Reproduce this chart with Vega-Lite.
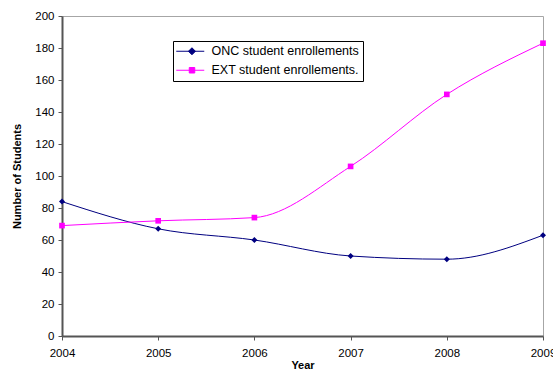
{
  "$schema": "https://vega.github.io/schema/vega-lite/v6.json",
  "width": 481,
  "height": 320,
  "autosize": {"type": "none"},
  "padding": {"left": 62, "top": 16, "right": 10, "bottom": 35},
  "background": "white",
  "config": {
    "view": {"stroke": "#a6a6a6", "strokeWidth": 1},
    "font": "Liberation Sans",
    "axis": {"grid": false, "domainColor": "#555555", "tickColor": "#555555", "domainWidth": 2, "labelColor": "#000000", "labelFont": "Liberation Sans", "labelFontSize": 11.5, "titleFont": "Liberation Sans", "titleFontSize": 11, "titleFontWeight": "bold", "titleColor": "#000000", "tickSize": 4}
  },
  "data": {
    "values": [
      {"Year": 2004, "Series": "ONC student enrollements", "Students": 84},
      {"Year": 2005, "Series": "ONC student enrollements", "Students": 67},
      {"Year": 2006, "Series": "ONC student enrollements", "Students": 60},
      {"Year": 2007, "Series": "ONC student enrollements", "Students": 50},
      {"Year": 2008, "Series": "ONC student enrollements", "Students": 48},
      {"Year": 2009, "Series": "ONC student enrollements", "Students": 63},
      {"Year": 2004, "Series": "EXT student enrollements.", "Students": 69},
      {"Year": 2005, "Series": "EXT student enrollements.", "Students": 72},
      {"Year": 2006, "Series": "EXT student enrollements.", "Students": 74},
      {"Year": 2007, "Series": "EXT student enrollements.", "Students": 106},
      {"Year": 2008, "Series": "EXT student enrollements.", "Students": 151},
      {"Year": 2009, "Series": "EXT student enrollements.", "Students": 183}
    ]
  },
  "encoding": {
    "x": {"field": "Year", "type": "quantitative", "scale": {"domain": [2004, 2009], "nice": false, "zero": false},
          "axis": {"values": [2004, 2005, 2006, 2007, 2008, 2009], "format": "d", "title": "Year", "labelPadding": 7, "titlePadding": 1, "labelFlush": false}},
    "y": {"field": "Students", "type": "quantitative", "scale": {"domain": [0, 200], "nice": false},
          "axis": {"values": [0, 20, 40, 60, 80, 100, 120, 140, 160, 180, 200], "title": "Number of Students", "titlePadding": 12, "labelPadding": 4}},
    "color": {"field": "Series", "type": "nominal",
              "scale": {"domain": ["ONC student enrollements", "EXT student enrollements."], "range": ["#000080", "#ff00ff"]},
              "legend": {
                "title": null, "orient": "none", "legendX": 111, "legendY": 25,
                "strokeColor": "#000000", "padding": 4, "fillColor": "white",
                "labelFont": "Liberation Sans", "labelFontSize": 12.5, "labelColor": "#000000",
                "symbolSize": 100, "symbolStrokeWidth": 1, "rowPadding": 6, "labelOffset": 22,
                "encode": {"symbols": {"update": {
                  "shape": {"signal": "datum.value == 'ONC student enrollements' ? 'M-1.4,0H4.2M1.74,-0.7L2.44,0L1.74,0.7L1.04,0Z' : 'M-1.4,0H4.2M1.2,-0.55H2.3V0.55H1.2Z'"},
                  "fill": {"signal": "datum.value == 'ONC student enrollements' ? '#000080' : '#ff00ff'"},
                  "stroke": {"signal": "datum.value == 'ONC student enrollements' ? '#000080' : '#ff00ff'"}
                }}}
              }}
  },
  "layer": [
    {
      "mark": {"type": "line", "interpolate": "monotone", "strokeWidth": 1}
    },
    {
      "transform": [{"filter": "datum.Series == 'ONC student enrollements'"}],
      "mark": {"type": "point", "shape": "diamond", "filled": true, "opacity": 1, "size": 36}
    },
    {
      "transform": [{"filter": "datum.Series == 'EXT student enrollements.'"}],
      "mark": {"type": "point", "shape": "square", "filled": true, "opacity": 1, "size": 32}
    }
  ]
}
